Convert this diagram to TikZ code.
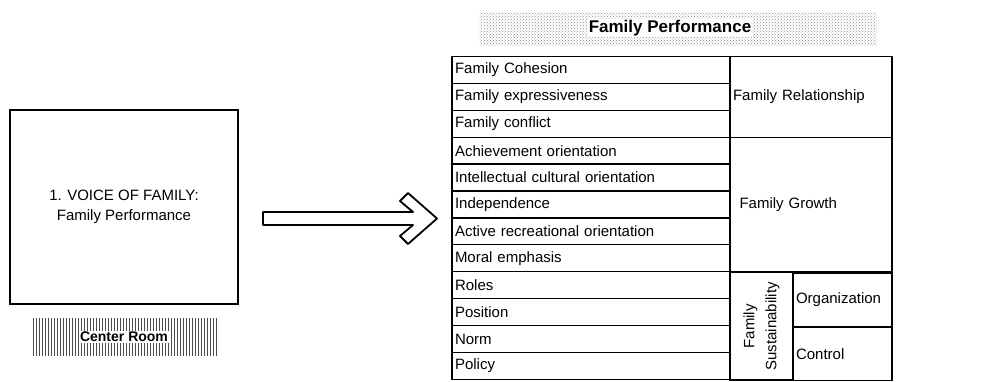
\documentclass[tikz,border=0pt]{standalone}
\usepackage{fontspec}
\setmainfont{Liberation Sans}
\usetikzlibrary{patterns}
\begin{document}
\begin{tikzpicture}[x=1pt,y=-1pt,
  cellbox/.style={draw,line width=1.3pt,outer sep=0pt,inner ysep=0pt,inner xsep=3pt,
    font=\fontsize{15}{18}\selectfont},
  rowcell/.style={cellbox,anchor=north west,text width=272pt,align=left,minimum height=26.9pt},
  rightcell/.style={cellbox,anchor=north west,align=left},
  hatchbox/.style={pattern=vertical lines,pattern color=black!70},
  dotbox/.style={pattern=crosshatch dots,pattern color=black!45},
  bigarrow/.style={draw,line width=1.8pt,fill=white,line join=round}]
\useasboundingbox (0,0) rectangle (991,381);

% left box
\node[draw,line width=1.6pt,minimum width=228pt,minimum height=194pt,outer sep=0pt,
  align=center,font=\fontsize{15}{20}\selectfont] (voice) at (124,207)
  {1. VOICE OF FAMILY:\\Family Performance};

% Center Room label
\node[hatchbox,minimum width=184pt,minimum height=37pt,inner sep=0pt] (room) at (125,336.5) {};
\node[fill=white,inner xsep=1.5pt,inner ysep=1pt,
  font=\bfseries\fontsize{14}{16}\selectfont] (roomtext) at (124,337) {Center Room};

% header
\node[dotbox,minimum width=397pt,minimum height=33pt,inner sep=0pt] (header) at (678,28.5) {};
\node[fill=white,font=\bfseries\fontsize{17}{19}\selectfont,inner sep=1pt] (htitle) at (670,28) {Family Performance};

% block arrow
\draw[bigarrow] (263,212) -- (413,212) -- (400,201) -- (408,193) -- (437,218.5)
  -- (408,244) -- (400,236) -- (413,225) -- (263,225) -- cycle;

% left column rows
\node[rowcell] (r1) at (452,56.5) {Family Cohesion};
\node[rowcell] (r2) at (r1.south west) {Family expressiveness};
\node[rowcell] (r3) at (r2.south west) {Family conflict};
\node[rowcell] (r4) at (r3.south west) {Achievement orientation};
\node[rowcell] (r5) at (r4.south west) {Intellectual cultural orientation};
\node[rowcell] (r6) at (r5.south west) {Independence};
\node[rowcell] (r7) at (r6.south west) {Active recreational orientation};
\node[rowcell] (r8) at (r7.south west) {Moral emphasis};
\node[rowcell] (r9) at (r8.south west) {Roles};
\node[rowcell] (r10) at (r9.south west) {Position};
\node[rowcell] (r11) at (r10.south west) {Norm};
\node[rowcell] (r12) at (r11.south west) {Policy};

% right column
\node[rightcell,text width=156pt,minimum height=80.7pt] (rel) at (r1.north east) {Family Relationship};
\node[rightcell,text width=143pt,inner xsep=9.5pt,minimum height=134.5pt] (grow) at (r4.north east) {Family Growth};
\node[cellbox,rotate=90,minimum width=107.6pt,minimum height=63pt,align=center,
  font=\fontsize{15}{22}\selectfont] (sust) at (761.5,326.3) {Family\\Sustainability};
\node[rightcell,text width=93pt,minimum height=53.8pt] (org) at (793,273.1) {Organization};
\node[rightcell,text width=93pt,minimum height=53.8pt] (ctrl) at (org.south west) {Control};
\end{tikzpicture}
\end{document}
